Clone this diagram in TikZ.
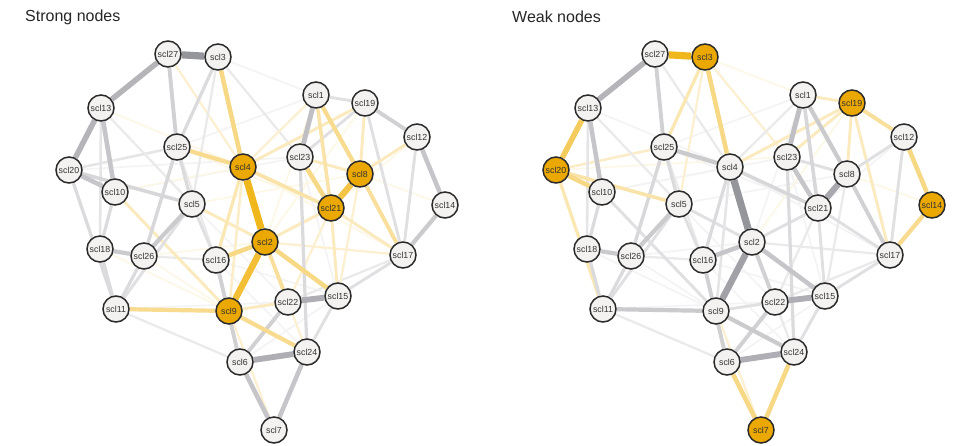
\documentclass[tikz,border=0pt]{standalone}
\usepackage{fontspec}
\setmainfont{Liberation Sans}
\pgfdeclarelayer{edgelayer}
\pgfdeclarelayer{bglayer}
\pgfsetlayers{bglayer,edgelayer,main}
\definecolor{hlorange}{HTML}{EBA800}
\definecolor{edgeorange}{HTML}{EEAE00}
\definecolor{edgegray}{HTML}{888890}
\definecolor{nodefill}{HTML}{F3F2F1}
\definecolor{nodeborder}{HTML}{2A2A2A}
\tikzset{
  nd/.style={circle, draw=nodeborder, line width=1.5pt, fill=nodefill, minimum size=26pt, inner sep=0pt, font=\fontsize{8.8}{9}\selectfont, text=black!80},
  hlnode/.style={fill=hlorange},
  paneltitle/.style={anchor=west, font=\fontsize{16}{18}\selectfont, text=black!85, inner sep=0pt},
}
\newcommand\mynodelist{scl27/168/54, scl3/218/57, scl13/101/108, scl1/316/95, scl19/365/103, scl12/417/137, scl25/177/147, scl23/300/157, scl4/243/167, scl8/360/174, scl20/69/170, scl10/115/192, scl5/192/204, scl21/331/208, scl14/445/205, scl2/265/242, scl18/100/249, scl26/144/256, scl16/216/260, scl17/403/255, scl11/116/309, scl9/229/311, scl22/288/302, scl15/338/296, scl6/240/362, scl24/307/352, scl7/274/430}
\newcommand\myedgelist{scl13/scl4/0.1, scl10/scl23/0.1, scl25/scl1/0.1, scl25/scl21/0.1, scl5/scl8/0.1, scl26/scl2/0.1, scl11/scl22/0.1, scl16/scl15/0.1, scl5/scl22/0.1, scl10/scl4/0.1, scl3/scl1/0.1, scl4/scl17/0.1, scl23/scl15/0.1, scl9/scl15/0.1, scl6/scl15/0.1, scl19/scl2/0.1, scl12/scl21/0.1, scl1/scl2/0.1, scl26/scl9/0.1, scl14/scl8/0.1, scl16/scl24/0.1, scl20/scl23/0.1, scl18/scl9/0.1,
scl27/scl4/0.2, scl3/scl5/0.2, scl3/scl23/0.2, scl11/scl6/0.2, scl17/scl22/0.2, scl9/scl7/0.2, scl8/scl15/0.2, scl21/scl22/0.2, scl2/scl17/0.2, scl20/scl25/0.25, scl25/scl16/0.2, scl26/scl16/0.2, scl13/scl5/0.2, scl13/scl18/0.25, scl4/scl1/0.2, scl2/scl24/0.2,
scl1/scl19/0.3, scl19/scl17/0.3, scl12/scl17/0.3, scl17/scl15/0.3, scl24/scl15/0.3, scl5/scl2/0.3, scl5/scl16/0.3, scl19/scl4/0.3, scl19/scl8/0.3, scl12/scl8/0.3, scl19/scl23/0.3, scl9/scl22/0.3, scl21/scl15/0.3, scl23/scl8/0.3, scl21/scl17/0.3, scl2/scl21/0.3, scl10/scl9/0.3, scl11/scl5/0.3, scl4/scl9/0.25,
scl3/scl25/0.35, scl20/scl11/0.35, scl10/scl18/0.35, scl18/scl11/0.35, scl26/scl11/0.35, scl26/scl25/0.38, scl25/scl5/0.35, scl4/scl16/0.35, scl23/scl24/0.35, scl4/scl21/0.4, scl1/scl21/0.4, scl2/scl22/0.45, scl20/scl5/0.4, scl27/scl25/0.45,
scl16/scl6/0.45, scl22/scl6/0.45, scl1/scl8/0.5, scl19/scl12/0.45, scl8/scl17/0.45, scl25/scl4/0.5, scl9/scl24/0.5, scl11/scl9/0.5, scl14/scl17/0.5, scl20/scl10/0.55, scl18/scl26/0.5, scl26/scl5/0.5, scl13/scl10/0.55, scl16/scl2/0.55, scl2/scl15/0.55, scl12/scl14/0.55, scl23/scl21/0.55, scl3/scl4/0.55, scl6/scl7/0.55, scl24/scl7/0.55, scl1/scl23/0.6,
scl27/scl13/0.7, scl13/scl20/0.7, scl22/scl15/0.75, scl6/scl24/0.75, scl8/scl21/0.8, scl2/scl9/0.85, scl4/scl2/0.95, scl27/scl3/0.95}
\newcommand\drawpanel[2]{%
  \foreach \n/\x/\y in \mynodelist {
    \ifcsname hl#1\n\endcsname
      \node[nd,hlnode] (#1\n) at (\x+#2,\y) {\n};
    \else
      \node[nd] (#1\n) at (\x+#2,\y) {\n};
    \fi
  }
  \begin{pgfonlayer}{edgelayer}
  \foreach \a/\b/\w in \myedgelist {
    \pgfmathtruncatemacro\pct{5+90*(\w^1.2)}
    \pgfmathsetmacro\lw{0.9+6.6*\w}
    \ifcsname hl#1\a\endcsname \def\ec{edgeorange}\else
      \ifcsname hl#1\b\endcsname \def\ec{edgeorange}\else \def\ec{edgegray}\fi\fi
    \draw[line width=\lw pt, color=\ec!\pct!white] (#1\a) -- (#1\b);
  }
  \end{pgfonlayer}
}
\foreach \n in {scl4,scl8,scl21,scl2,scl9} {\expandafter\gdef\csname hlA\n\endcsname{}}
\foreach \n in {scl3,scl20,scl19,scl14,scl7} {\expandafter\gdef\csname hlB\n\endcsname{}}
\begin{document}
\begin{tikzpicture}[x=1pt,y=-1pt]
\useasboundingbox (0,0) rectangle (957,445);
\begin{pgfonlayer}{bglayer}
\fill[white] (0,0) rectangle (957,445);
\end{pgfonlayer}
\node[paneltitle] (t1) at (25,17) {Strong nodes};
\node[paneltitle] (t2) at (512,17) {Weak nodes};
\drawpanel{A}{0}
\drawpanel{B}{487}
\end{tikzpicture}
\end{document}
